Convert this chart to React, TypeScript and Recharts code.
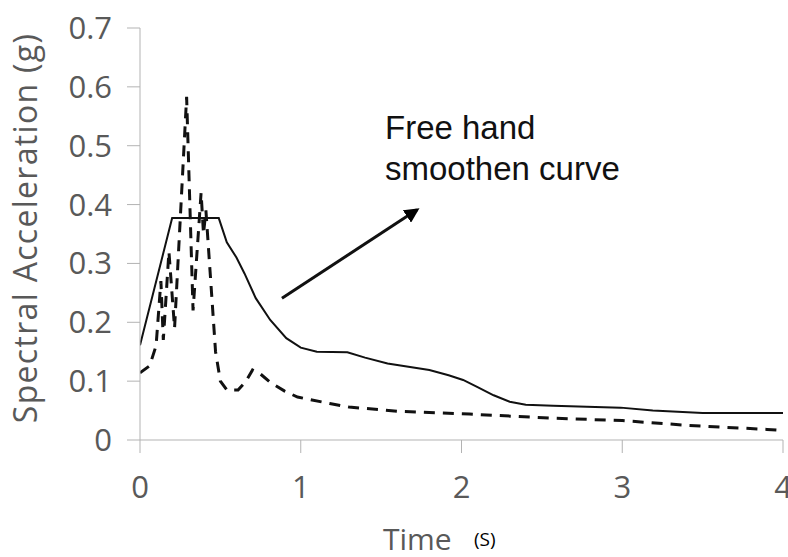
import React from "react";
import { LineChart, Line, XAxis, YAxis, ReferenceLine } from "recharts";

const smoothT = [0, 0.2, 0.49, 0.54, 0.6, 0.65, 0.72, 0.81, 0.91, 1.0, 1.1, 1.29, 1.4, 1.54, 1.8, 1.92, 2.01, 2.1, 2.2, 2.3, 2.4, 2.57, 2.99, 3.19, 3.5, 4.0];
const smoothV = [0.161, 0.377, 0.377, 0.336, 0.31, 0.283, 0.241, 0.204, 0.173, 0.157, 0.15, 0.149, 0.14, 0.13, 0.119, 0.11, 0.102, 0.09, 0.076, 0.065, 0.06, 0.058, 0.055, 0.05, 0.046, 0.046];

const rawT = [0, 0.06, 0.1, 0.13, 0.145, 0.18, 0.215, 0.29, 0.33, 0.38, 0.395, 0.41, 0.44, 0.47, 0.5, 0.54, 0.61, 0.66, 0.7, 0.75, 0.81, 0.9, 0.98, 1.18, 1.3, 1.6, 2.05, 2.57, 3.0, 3.4, 3.9, 4.0];
const rawV = [0.114, 0.126, 0.16, 0.27, 0.17, 0.32, 0.19, 0.583, 0.22, 0.42, 0.35, 0.39, 0.27, 0.15, 0.1, 0.085, 0.085, 0.1, 0.119, 0.112, 0.098, 0.083, 0.073, 0.062, 0.056, 0.049, 0.044, 0.037, 0.033, 0.025, 0.018, 0.016];

const xTicks = [0, 1, 2, 3, 4];
const yTicks = [0, 0.1, 0.2, 0.3, 0.4, 0.5, 0.6, 0.7];

const arrowFrom = { t: 0.883, v: 0.241 };
const arrowTo = { t: 1.723, v: 0.391 };

const smoothData = smoothT.map((t, i) => ({ t, v: smoothV[i] }));
const rawData = rawT.map((t, i) => ({ t, v: rawV[i] }));

const axisColor = "#b3b3b3";
const labelFont = "'Open Sans', Lato, sans-serif";
const tickFont = { fontFamily: labelFont, fontSize: 31, fill: "#595959" };

export default function App() {
  return (
    <div style={{ position: "fixed", left: 0, top: 0, width: 788, height: 557, background: "#fff" }}>
      <svg width="0" height="0" style={{ position: "absolute" }}>
        <defs>
          <marker id="arrowHead" viewBox="0 0 10 10" refX="8" refY="5" markerWidth="5" markerHeight="5" orient="auto" markerUnits="strokeWidth">
            <path d="M0,0 L10,5 L0,10 z" fill="#000" />
          </marker>
        </defs>
      </svg>
      <LineChart width={788} height={557} margin={{ top: 28, right: 5, bottom: 87, left: 80 }}>
        <XAxis
          type="number"
          dataKey="t"
          domain={[0, 4]}
          ticks={xTicks}
          interval={0}
          height={30}
          tickSize={13}
          tickMargin={23}
          stroke={axisColor}
          tick={tickFont}
          allowDataOverflow
        />
        <YAxis
          type="number"
          dataKey="v"
          domain={[0, 0.7]}
          ticks={yTicks}
          interval={0}
          width={60}
          tickSize={13}
          tickMargin={15}
          stroke={axisColor}
          tick={tickFont}
          tickFormatter={(v: number) => String(v)}
          allowDataOverflow
        />
        <Line
          data={rawData}
          dataKey="v"
          type="linear"
          stroke="#111"
          strokeWidth={3}
          strokeDasharray="11 8"
          dot={false}
          isAnimationActive={false}
        />
        <Line
          data={smoothData}
          dataKey="v"
          type="linear"
          stroke="#111"
          strokeWidth={2}
          dot={false}
          isAnimationActive={false}
        />
        <ReferenceLine
          segment={[{ x: arrowFrom.t, y: arrowFrom.v }, { x: arrowTo.t, y: arrowTo.v }]}
          stroke="#111"
          strokeWidth={3}
          markerEnd="url(#arrowHead)"
          ifOverflow="visible"
        />
      </LineChart>
      <svg width={788} height={557} style={{ position: "absolute", left: 0, top: 0, pointerEvents: "none" }}>
        <text
          x={37}
          y={228}
          transform="rotate(-90 37 228)"
          textAnchor="middle"
          style={{ fontFamily: labelFont, fontSize: 32, letterSpacing: 1.3, fill: "#595959" }}
        >
          Spectral Acceleration (g)
        </text>
        <text x={383} y={550} style={{ fontFamily: labelFont, fontSize: 30, fill: "#595959" }}>
          Time
        </text>
        <text x={474} y={546} style={{ fontFamily: labelFont, fontSize: 19, fill: "#000" }}>
          (S)
        </text>
        <text x={385} y={139} style={{ fontFamily: "'Liberation Sans', Arial, sans-serif", fontSize: 33, fill: "#111" }}>
          Free hand
        </text>
        <text x={385} y={180} style={{ fontFamily: "'Liberation Sans', Arial, sans-serif", fontSize: 33, fill: "#111" }}>
          smoothen curve
        </text>
      </svg>
    </div>
  );
}
